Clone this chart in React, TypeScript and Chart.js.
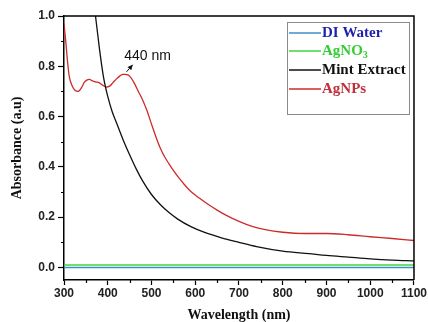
import { useEffect, useRef } from 'react';
import { Chart, registerables } from 'chart.js';

Chart.register(...registerables);

// ---- data ----
const waterWl = [300, 500, 700, 900, 1100];
const waterAbs = [0.0, 0.0, 0.0, 0.0, 0.0];

const agno3Wl = [300, 500, 700, 900, 1100];
const agno3Abs = [0.01, 0.01, 0.01, 0.01, 0.01];

const mintWl = [360, 372, 381, 390, 400, 410, 420, 435, 450, 465, 480, 500, 520, 540, 560, 590, 620, 660, 700, 740, 800, 860, 900, 950, 1000, 1050, 1100];
const mintAbs = [1.15, 1.0, 0.87, 0.76, 0.68, 0.62, 0.575, 0.508, 0.448, 0.392, 0.343, 0.29, 0.25, 0.218, 0.192, 0.162, 0.14, 0.118, 0.1, 0.083, 0.065, 0.055, 0.048, 0.041, 0.034, 0.029, 0.026];

const agnpWl = [300, 304, 308, 312, 318, 325, 332, 340, 346, 352, 358, 365, 372, 380, 388, 397, 405, 412, 420, 428, 435, 440, 446, 452, 460, 470, 480, 490, 500, 510, 520, 530, 540, 550, 560, 575, 590, 610, 630, 650, 670, 700, 730, 760, 800, 850, 900, 950, 1000, 1050, 1100];
const agnpAbs = [0.97, 0.9, 0.82, 0.76, 0.725, 0.705, 0.7, 0.715, 0.735, 0.745, 0.748, 0.742, 0.738, 0.735, 0.725, 0.717, 0.722, 0.735, 0.75, 0.762, 0.768, 0.768, 0.766, 0.757, 0.735, 0.7, 0.665, 0.622, 0.57, 0.52, 0.475, 0.44, 0.412, 0.386, 0.362, 0.33, 0.302, 0.275, 0.25, 0.228, 0.208, 0.183, 0.163, 0.15, 0.14, 0.135, 0.135, 0.13, 0.122, 0.115, 0.107];

const seriesLabels = ['DI Water', 'AgNO3', 'Mint Extract', 'AgNPs'];
const lineColors = ['#3f8fc6', '#3fd43f', '#111111', '#cc2b2b'];
const textColors = ['#1f1fae', '#33cc33', '#111111', '#c0303a'];

const peakWl = 440;
const peakLabel = '440 nm';

const xMin = 300, xMax = 1100, xStep = 100;
const yMin = -0.05, yMax = 1.0, yStep = 0.2;

const toPts = (xs: number[], ys: number[]) => xs.map((x, i) => ({ x, y: ys[i] }));

export default function App() {
  const ref = useRef<HTMLCanvasElement>(null);

  useEffect(() => {
    document.body.style.margin = '0';
    const decor = {
      id: 'decor',
      afterDraw(chart: any) {
        const { ctx, chartArea: a, scales } = chart;
        const xs = scales.x, ys = scales.y;
        ctx.save();
        // frame (top & right)
        ctx.strokeStyle = '#000';
        ctx.lineWidth = 1.5;
        ctx.beginPath();
        ctx.moveTo(a.left, a.top);
        ctx.lineTo(a.right, a.top);
        ctx.lineTo(a.right, a.bottom);
        ctx.stroke();
        // minor ticks
        ctx.lineWidth = 1.2;
        ctx.beginPath();
        for (let v = 0.1; v < yMax; v += yStep) {
          const y = Math.round(ys.getPixelForValue(v)) + 0.5;
          ctx.moveTo(a.left - 3, y);
          ctx.lineTo(a.left, y);
        }
        for (let v = xMin + xStep / 2; v < xMax; v += xStep) {
          const x = Math.round(xs.getPixelForValue(v)) + 0.5;
          ctx.moveTo(x, a.bottom);
          ctx.lineTo(x, a.bottom + 3);
        }
        ctx.stroke();

        // annotation
        const peakIdx = agnpWl.indexOf(peakWl);
        const peakVal = agnpAbs[peakIdx];
        ctx.fillStyle = '#111';
        ctx.font = '14px "Liberation Sans", Arial, sans-serif';
        ctx.textBaseline = 'middle';
        ctx.textAlign = 'left';
        ctx.fillText(peakLabel, xs.getPixelForValue(peakWl) - 1, ys.getPixelForValue(peakVal + 0.072));
        const x0 = xs.getPixelForValue(peakWl + 3), y0 = ys.getPixelForValue(peakVal + 0.01);
        const x1 = xs.getPixelForValue(peakWl + 17), y1 = ys.getPixelForValue(peakVal + 0.038);
        ctx.strokeStyle = '#111';
        ctx.lineWidth = 1;
        ctx.beginPath();
        ctx.moveTo(x0, y0);
        ctx.lineTo(x1, y1);
        ctx.stroke();
        const ang = Math.atan2(y1 - y0, x1 - x0);
        ctx.beginPath();
        ctx.moveTo(x1, y1);
        ctx.lineTo(x1 - 5 * Math.cos(ang) + 2.5 * Math.sin(ang), y1 - 5 * Math.sin(ang) - 2.5 * Math.cos(ang));
        ctx.lineTo(x1 - 5 * Math.cos(ang) - 2.5 * Math.sin(ang), y1 - 5 * Math.sin(ang) + 2.5 * Math.cos(ang));
        ctx.closePath();
        ctx.fill();

        // legend box
        const bx = 287.5, by = 22.5, bw = 122, bh = 92;
        ctx.strokeStyle = '#8a8a8a';
        ctx.lineWidth = 1;
        ctx.strokeRect(bx, by, bw, bh);
        const rows = [33, 51, 70, 89];
        seriesLabels.forEach((lab, i) => {
          const y = rows[i];
          ctx.strokeStyle = lineColors[i];
          ctx.lineWidth = 1.5;
          ctx.beginPath();
          ctx.moveTo(289, y);
          ctx.lineTo(321, y);
          ctx.stroke();
          ctx.fillStyle = textColors[i];
          ctx.font = 'bold 15px "Liberation Serif", "Times New Roman", serif';
          const m = lab.match(/^(.*?)(\d+)$/);
          if (m) {
            ctx.fillText(m[1], 322, y);
            const w = ctx.measureText(m[1]).width;
            ctx.font = 'bold 10px "Liberation Serif", "Times New Roman", serif';
            ctx.fillText(m[2], 322 + w, y + 4);
          } else {
            ctx.fillText(lab, 322, y);
          }
        });
        ctx.restore();
      },
    };

    const dataSets = [
      toPts(waterWl, waterAbs),
      toPts(agno3Wl, agno3Abs),
      toPts(mintWl, mintAbs),
      toPts(agnpWl, agnpAbs),
    ];

    const chart = new Chart(ref.current!, {
      type: 'line',
      data: {
        datasets: dataSets.map((d, i) => ({
          label: seriesLabels[i],
          data: d,
          borderColor: lineColors[i],
          borderWidth: i < 2 ? 1.5 : 1.3,
          pointRadius: 0,
          cubicInterpolationMode: 'monotone' as const,
          fill: false,
        })),
      },
      options: {
        responsive: false,
        animation: false,
        events: [],
        layout: { padding: { top: 16, right: 14, left: 0, bottom: 0 } },
        plugins: { legend: { display: false }, tooltip: { enabled: false } },
        scales: {
          x: {
            type: 'linear',
            min: xMin,
            max: xMax,
            afterFit: (s: any) => { s.height = 42; },
            border: { color: '#000', width: 1.5 },
            grid: { drawOnChartArea: false, drawTicks: true, tickLength: 5, tickColor: '#000', tickWidth: 1.2 },
            ticks: {
              stepSize: xStep,
              padding: 1,
              color: '#222',
              font: { family: '"Liberation Sans", Arial, sans-serif', size: 12, weight: 'bold' },
              maxRotation: 0,
              callback: (v: any) => String(v),
            },
            title: {
              display: true,
              text: 'Wavelength (nm)',
              color: '#111',
              padding: { top: 0, bottom: 0 },
              font: { family: '"Liberation Serif", "Times New Roman", serif', size: 14, weight: 'bold', lineHeight: 1 },
            },
          },
          y: {
            type: 'linear',
            min: yMin,
            max: yMax,
            afterFit: (s: any) => { s.width = 64; },
            border: { color: '#000', width: 1.5 },
            grid: { drawOnChartArea: false, drawTicks: true, tickLength: 6, tickColor: '#000', tickWidth: 1.2 },
            ticks: {
              stepSize: yStep,
              includeBounds: false,
              padding: 3,
              color: '#222',
              font: { family: '"Liberation Sans", Arial, sans-serif', size: 12, weight: 'bold' },
              callback: (v: any) => Number(v).toFixed(1),
            },
            title: {
              display: true,
              text: 'Absorbance (a.u)',
              color: '#111',
              padding: { top: 10, bottom: 0 },
              font: { family: '"Liberation Serif", "Times New Roman", serif', size: 14, weight: 'bold', lineHeight: 1 },
            },
          },
        },
      },
      plugins: [decor],
    } as any);
    return () => chart.destroy();
  }, []);

  return (
    <div style={{ width: 428, height: 322, position: 'relative', background: '#fff' }}>
      <canvas ref={ref} width={428} height={322} style={{ display: 'block' }} />
    </div>
  );
}
